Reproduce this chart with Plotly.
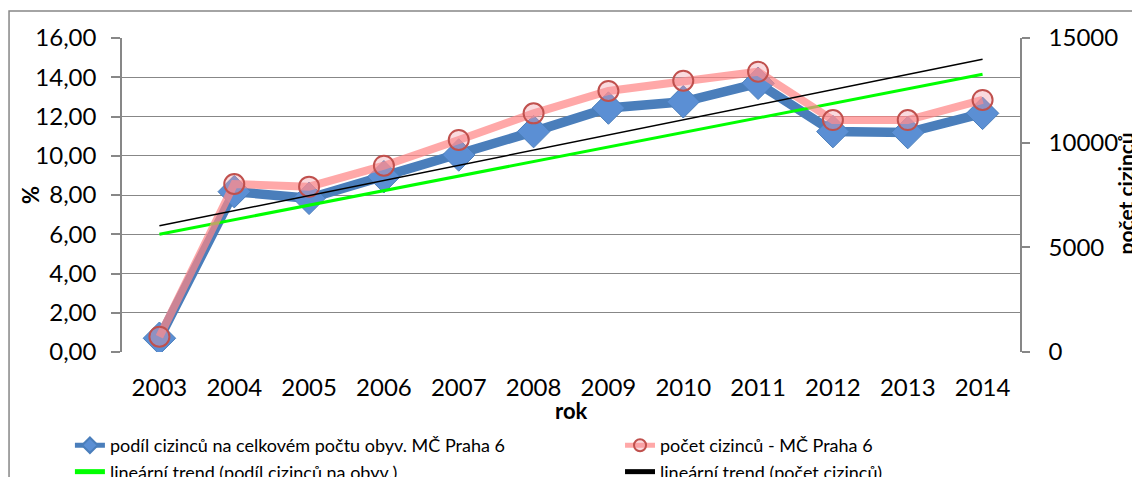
import plotly.graph_objects as go

years = [2003, 2004, 2005, 2006, 2007, 2008, 2009, 2010, 2011, 2012, 2013, 2014]
share_pct = [0.70, 8.17, 7.83, 8.93, 10.04, 11.23, 12.43, 12.75, 13.69, 11.23, 11.18, 12.16]
foreigners = [730, 8025, 7900, 8900, 10130, 11400, 12470, 12960, 13390, 11080, 11080, 12040]
trend_years = [2003, 2014]
trend_share = [6.0, 14.15]
trend_count = [6030, 13980]

name_share = "podíl cizinců na celkovém počtu obyv. MČ Praha 6"
name_count = "počet cizinců - MČ Praha 6"
name_trend_share = "lineární trend (podíl cizinců na obyv.)"
name_trend_count = "lineární trend (počet cizinců)"

FONT = "Lato"
GRID = "#878787"

fig = go.Figure()
fig.add_trace(go.Scatter(
    x=years, y=share_pct, name=name_share, mode="lines+markers",
    line=dict(color="#4A7EBB", width=9.5),
    marker=dict(symbol="diamond", size=25, color="#5B8FD4",
                line=dict(color="#4A7EBB", width=1)),
    yaxis="y", legend="legend"))
fig.add_trace(go.Scatter(
    x=years, y=foreigners, name=name_count, mode="lines+markers",
    line=dict(color="rgba(255,135,135,0.72)", width=8),
    marker=dict(symbol="circle", size=20, color="rgba(240,150,160,0.35)",
                line=dict(color="#C0504D", width=2)),
    yaxis="y2", legend="legend2"))
fig.add_trace(go.Scatter(
    x=trend_years, y=trend_share, name=name_trend_share, mode="lines",
    line=dict(color="#00FF00", width=3), yaxis="y", legend="legend"))
fig.add_trace(go.Scatter(
    x=trend_years, y=trend_count, name=name_trend_count, mode="lines",
    line=dict(color="#000000", width=1.5), yaxis="y2", legend="legend2"))

legend_common = dict(
    orientation="v", yanchor="top", y=-0.239,
    font=dict(family=FONT, size=18), bgcolor="rgba(0,0,0,0)",
    tracegroupgap=0, traceorder="normal", itemsizing="constant")

fig.update_layout(
    width=1132, height=477,
    margin=dict(l=122, r=112, t=38, b=125, pad=0, autoexpand=False),
    paper_bgcolor="white", plot_bgcolor="white",
    separators=", ",
    font=dict(family=FONT, size=24, color="black"),
    showlegend=True,
    xaxis=dict(
        range=[2002.5, 2014.5], tickmode="array", tickvals=years,
        ticktext=[str(y) for y in years], showgrid=False, zeroline=False,
        showline=False, ticks="", ticklabelstandoff=19,
        tickfont=dict(size=24)),
    yaxis=dict(
        range=[0, 16], dtick=2, tickformat=".2f", showgrid=True,
        gridcolor=GRID, gridwidth=1, zeroline=False, showline=True,
        linecolor=GRID, linewidth=1.5, ticks="outside", ticklen=9,
        tickcolor=GRID, tickwidth=1.5, ticklabelstandoff=10,
        tickfont=dict(size=24)),
    yaxis2=dict(
        range=[0, 15000], dtick=5000, tickformat="d", overlaying="y",
        side="right", showgrid=False, zeroline=False, showline=True,
        linecolor=GRID, linewidth=1.5, ticks="outside", ticklen=8,
        tickcolor=GRID, tickwidth=1.5, ticklabelstandoff=14,
        tickfont=dict(size=24)),
    legend=dict(x=-0.058, xanchor="left", **legend_common),
    legend2=dict(x=0.5546, xanchor="left", **legend_common),
    shapes=[dict(type="rect", xref="paper", yref="paper",
                 x0=-0.1258, x1=1.6, y0=-1.0, y1=1.086,
                 line=dict(color=GRID, width=1.5), layer="below")],
    annotations=[
        dict(text="<b>%</b>", xref="paper", yref="paper", x=-0.1024, y=0.50,
             xanchor="center", yanchor="middle", textangle=-90, showarrow=False,
             font=dict(size=22)),
        dict(text="<b>rok</b>", xref="paper", yref="paper", x=0.5, y=-0.185,
             xanchor="center", yanchor="middle", showarrow=False,
             font=dict(size=22)),
        dict(text="<b>počet cizinců</b>", xref="paper", yref="paper", x=1.1170, y=0.505,
             xanchor="center", yanchor="middle", textangle=-90, showarrow=False,
             font=dict(size=21)),
    ],
)

fig.write_html(
    "out.html",
    config={"displayModeBar": False},
    post_script="document.body.style.margin='0px';document.body.style.overflow='hidden';",
)
